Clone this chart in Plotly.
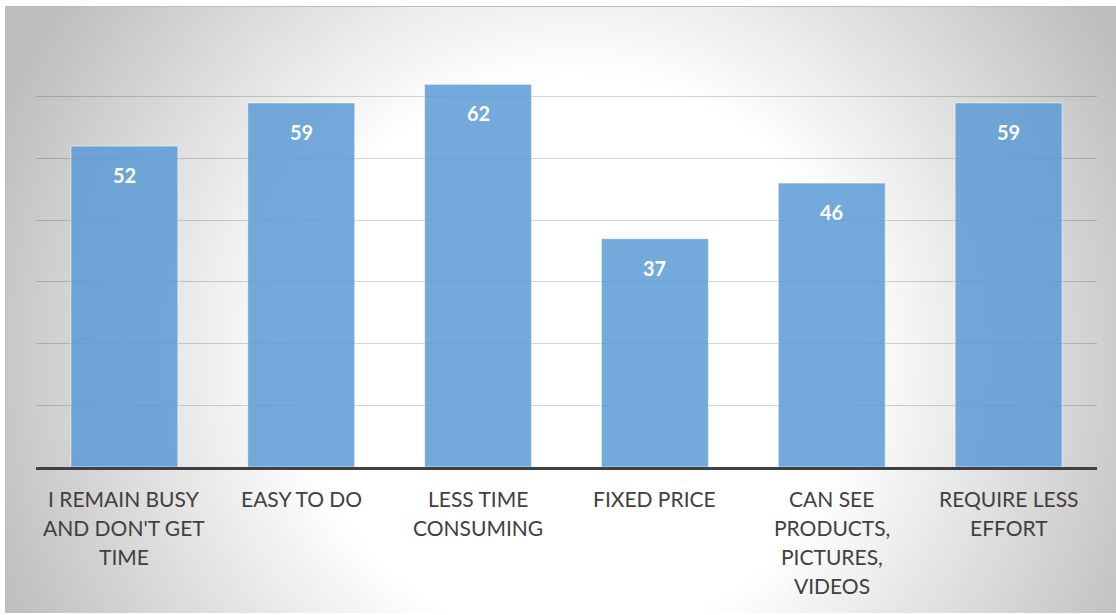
import base64
import plotly.graph_objects as go

# Reasons for shopping online (number of respondents)
categories = [
    "I REMAIN BUSY AND DON'T GET TIME",
    "EASY TO DO",
    "LESS TIME CONSUMING",
    "FIXED PRICE",
    "CAN SEE PRODUCTS, PICTURES, VIDEOS",
    "REQUIRE LESS EFFORT",
]
label_lines = [
    ["I REMAIN BUSY", "AND DON'T GET", "TIME"],
    ["EASY TO DO"],
    ["LESS TIME", "CONSUMING"],
    ["FIXED PRICE"],
    ["CAN SEE", "PRODUCTS,", "PICTURES,", "VIDEOS"],
    ["REQUIRE LESS", "EFFORT"],
]
values = [52, 59, 62, 37, 46, 59]

W, H = 1116, 615
ML, MR, MT, MB = 36, 19, 35, 148
plot_w = W - ML - MR
plot_h = H - MT - MB

# Soft radial backdrop for the chart area
box_x0, box_y0, box_w, box_h = 5, 6, 1111, 607
svg = f'''<svg xmlns="http://www.w3.org/2000/svg" width="{box_w}" height="{box_h}" viewBox="0 0 {box_w} {box_h}" preserveAspectRatio="none">
<defs><radialGradient id="g" gradientUnits="userSpaceOnUse" cx="570" cy="350" r="620">
<stop offset="0.45" stop-color="#ffffff"/><stop offset="1" stop-color="#bebebe"/></radialGradient></defs>
<rect x="0" y="0" width="{box_w}" height="{box_h}" fill="url(#g)"/>
<path d="M0.5,{box_h} V0.5 H{box_w}" fill="none" stroke="#bdbdbd" stroke-width="1"/>
</svg>'''
svg_uri = "data:image/svg+xml;base64," + base64.b64encode(svg.encode()).decode()

font_family = "Lato, 'Open Sans', sans-serif"

fig = go.Figure(
    go.Bar(
        x=categories,
        y=values,
        marker=dict(
            color="rgba(91,155,213,0.85)",
            line=dict(color="rgba(255,255,255,0.55)", width=1),
        ),
        hoverinfo="x+y",
    )
)

annotations = []
# value labels inside the top of each bar
for cat, val in zip(categories, values):
    annotations.append(dict(
        x=cat, y=val, xref="x", yref="y",
        text=f"<b>{val}</b>", showarrow=False,
        yanchor="middle", yshift=-29,
        font=dict(family=font_family, size=20, color="#ffffff"),
    ))
# category labels, one line at a time for Excel-like line spacing
for cat, lines in zip(categories, label_lines):
    for i, line in enumerate(lines):
        annotations.append(dict(
            x=cat, y=0, xref="x", yref="paper",
            text=line, showarrow=False,
            yanchor="middle", yshift=-(31 + 29 * i),
            font=dict(family=font_family, size=21, color="#404040"),
        ))

fig.update_layout(
    width=W, height=H,
    margin=dict(l=ML, r=MR, t=MT, b=MB, pad=0),
    paper_bgcolor="#ffffff",
    plot_bgcolor="rgba(0,0,0,0)",
    bargap=0.395,
    showlegend=False,
    annotations=annotations,
    images=[dict(
        source=svg_uri,
        xref="paper", yref="paper",
        x=(box_x0 - ML) / plot_w, y=(H - MB - box_y0) / plot_h,
        sizex=box_w / plot_w, sizey=box_h / plot_h,
        xanchor="left", yanchor="top",
        sizing="stretch", layer="below",
    )],
)
fig.update_xaxes(
    showticklabels=False, showgrid=False, ticks="",
    showline=True, linecolor="#404040", linewidth=3,
)
fig.update_yaxes(
    range=[0, 70], dtick=10, showticklabels=False, ticks="",
    showgrid=True, gridcolor="rgba(0,0,0,0.17)", gridwidth=1.3,
    zeroline=False, showline=False,
)

fig.write_html("out.html")
